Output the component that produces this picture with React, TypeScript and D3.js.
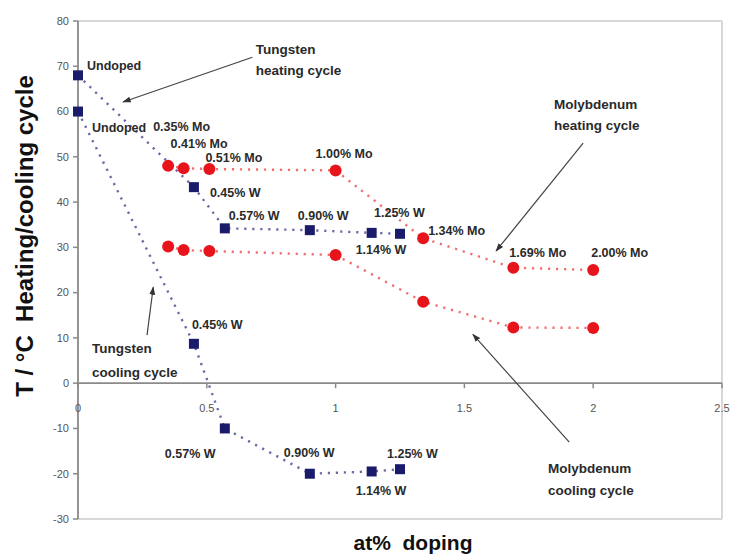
import React from "react";
import * as d3 from "d3";

const W = 731;
const H = 555;

// Tungsten (W) data
const wDoping = [0, 0.45, 0.57, 0.9, 1.14, 1.25];
const wHeating = [68, 43.3, 34.2, 33.8, 33.2, 33.0];
const wCooling = [60, 8.7, -10, -20, -19.5, -19];
const wHeatLabels = ["Undoped", "0.45% W", "0.57% W", "0.90% W", "1.14% W", "1.25% W"];
const wCoolLabels = ["Undoped", "0.45% W", "0.57% W", "0.90% W", "1.14% W", "1.25% W"];

// Molybdenum (Mo) data
const moDoping = [0.35, 0.41, 0.51, 1.0, 1.34, 1.69, 2.0];
const moHeating = [48, 47.5, 47.3, 47, 32, 25.5, 25];
const moCooling = [30.2, 29.4, 29.2, 28.3, 18, 12.3, 12.2];
const moHeatLabels = ["0.35% Mo", "0.41% Mo", "0.51% Mo", "1.00% Mo", "1.34% Mo", "1.69% Mo", "2.00% Mo"];

// axes ticks
const xTicks = [0, 0.5, 1, 1.5, 2, 2.5];
const yTicks = [80, 70, 60, 50, 40, 30, 20, 10, 0, -10, -20, -30];

// layout: label offsets (px) relative to their points
const wHeatOff = [[9, -10], [16, 5], [4, -13], [-12, -15], [-16, 17], [-26, -21]];
const wCoolOff = [[14, 16], [-2, -19], [-60, 25], [-26, -21], [-16, 19], [-13, -16]];
const moHeatOff = [[-15, -39], [-13, -25], [-4, -11], [-20, -17], [5, -8], [-4, -15], [-2, -17]];

// annotations (in data units)
const annotations = [
  { lines: ["Tungsten", "heating cycle"], tx: 0.69, ty: [73.8, 69.2], from: [0.677, 72], to: [0.175, 62.1] },
  { lines: ["Molybdenum", "heating cycle"], tx: 1.848, ty: [61.7, 57], from: [1.961, 53], to: [1.623, 29.2] },
  { lines: ["Molybdenum", "cooling cycle"], tx: 1.825, ty: [-18.8, -23.6], from: [1.907, -13], to: [1.533, 10.8] },
  { lines: ["Tungsten", "cooling cycle"], tx: 0.054, ty: [7.7, 2.4], from: [0.268, 10.6], to: [0.292, 21.2] },
];

const x = d3.scaleLinear().domain([0, 2.5]).range([78, 722]);
const y = d3.scaleLinear().domain([-30, 80]).range([519, 21]);

const BLUE = "#1b1b6b";
const RED = "#e8141c";
const FONT = "'Liberation Sans', Arial, sans-serif";

export default function App() {
  const line = d3
    .line<[number, number]>()
    .x((d) => x(d[0]))
    .y((d) => y(d[1]));
  const zip = (a: number[], b: number[]) => a.map((v, i) => [v, b[i]] as [number, number]);

  const wH = zip(wDoping, wHeating);
  const wC = zip(wDoping, wCooling);
  const mH = zip(moDoping, moHeating);
  const mC = zip(moDoping, moCooling);

  const sq = 10;
  const labelStyle = { fontFamily: FONT, fontSize: 12.5, fill: "#2a2a2a", fontWeight: 700 as const };

  return (
    <div style={{ position: "absolute", left: 0, top: 0 }}>
      <svg width={W} height={H} style={{ display: "block", background: "#fff" }}>
        <defs>
          <marker id="arr" viewBox="0 0 10 10" refX="9" refY="5" markerWidth="7" markerHeight="7" orient="auto">
            <path d="M0,1.5 L10,5 L0,8.5 z" fill="#333" />
          </marker>
        </defs>
        {/* frame */}
        <line x1={x(0)} x2={x(2.5)} y1={y(80)} y2={y(80)} stroke="#d8d8d8" strokeWidth={2} />
        <line x1={x(2.5)} x2={x(2.5)} y1={y(80)} y2={y(-30)} stroke="#d8d8d8" strokeWidth={2} />
        <line x1={x(0)} x2={x(2.5)} y1={y(-30)} y2={y(-30)} stroke="#d8d8d8" strokeWidth={2} />
        {/* y axis */}
        <line x1={x(0)} x2={x(0)} y1={y(80)} y2={y(-30)} stroke="#8a8a8a" strokeWidth={1.8} />
        {yTicks.map((t) => (
          <g key={"y" + t}>
            <line x1={x(0) - 5} x2={x(0)} y1={y(t)} y2={y(t)} stroke="#8a8a8a" strokeWidth={1.5} />
            <text x={x(0) - 9} y={y(t)} dy="0.35em" textAnchor="end" style={{ fontFamily: FONT, fontSize: 11, fill: "#555" }}>
              {t}
            </text>
          </g>
        ))}
        {/* zero line / x axis */}
        <line x1={x(0)} x2={x(2.5)} y1={y(0)} y2={y(0)} stroke="#8a8a8a" strokeWidth={1.8} />
        {xTicks.map((t) => (
          <g key={"x" + t}>
            <line x1={x(t)} x2={x(t)} y1={y(0)} y2={y(0) + 5} stroke="#8a8a8a" strokeWidth={1.5} />
            <text x={x(t)} y={y(0) + 25} dy="0.35em" textAnchor="middle" style={{ fontFamily: FONT, fontSize: 11, fill: "#555" }}>
              {t}
            </text>
          </g>
        ))}

        {/* series lines */}
        {[wH, wC].map((d, i) => (
          <path key={"wl" + i} d={line(d) || ""} fill="none" stroke="#6a6aa8" strokeWidth={2.4} strokeDasharray="2.2 5.8" />
        ))}
        {[mH, mC].map((d, i) => (
          <path key={"ml" + i} d={line(d) || ""} fill="none" stroke="#f07070" strokeWidth={2.4} strokeDasharray="2.2 5.8" />
        ))}

        {/* markers */}
        {[...mH, ...mC].map((d, i) => (
          <circle key={"mc" + i} cx={x(d[0])} cy={y(d[1])} r={6} fill={RED} />
        ))}
        {[...wH, ...wC].map((d, i) => (
          <rect key={"ws" + i} x={x(d[0]) - sq / 2} y={y(d[1]) - sq / 2} width={sq} height={sq} fill={BLUE} />
        ))}

        {/* data labels */}
        {wH.map((d, i) => (
          <text key={"wht" + i} x={x(d[0]) + wHeatOff[i][0]} y={y(d[1]) + wHeatOff[i][1]} dy="0.35em" style={labelStyle}>
            {wHeatLabels[i]}
          </text>
        ))}
        {wC.map((d, i) => (
          <text key={"wct" + i} x={x(d[0]) + wCoolOff[i][0]} y={y(d[1]) + wCoolOff[i][1]} dy="0.35em" style={labelStyle}>
            {wCoolLabels[i]}
          </text>
        ))}
        {mH.map((d, i) => (
          <text key={"mht" + i} x={x(d[0]) + moHeatOff[i][0]} y={y(d[1]) + moHeatOff[i][1]} dy="0.35em" style={labelStyle}>
            {moHeatLabels[i]}
          </text>
        ))}

        {/* annotations */}
        {annotations.map((a, i) => (
          <g key={"an" + i}>
            <line
              x1={x(a.from[0])}
              y1={y(a.from[1])}
              x2={x(a.to[0])}
              y2={y(a.to[1])}
              stroke="#444"
              strokeWidth={1.2}
              markerEnd="url(#arr)"
            />
            {a.lines.map((l, j) => (
              <text key={j} x={x(a.tx)} y={y(a.ty[j])} dy="0.35em" style={{ ...labelStyle, fontSize: 13.5 }}>
                {l}
              </text>
            ))}
          </g>
        ))}

        {/* axis titles */}
        <text
          transform={`translate(25,${236}) rotate(-90)`}
          textAnchor="middle"
          dy="0.35em"
          style={{ fontFamily: FONT, fontSize: 24, fontWeight: 700, fill: "#111", whiteSpace: "pre" }}
        >
          T / °C  Heating/cooling cycle
        </text>
        <text x={413} y={550} textAnchor="middle" style={{ fontFamily: FONT, fontSize: 21, fontWeight: 700, fill: "#111", whiteSpace: "pre" }}>
          at%  doping
        </text>
      </svg>
    </div>
  );
}
